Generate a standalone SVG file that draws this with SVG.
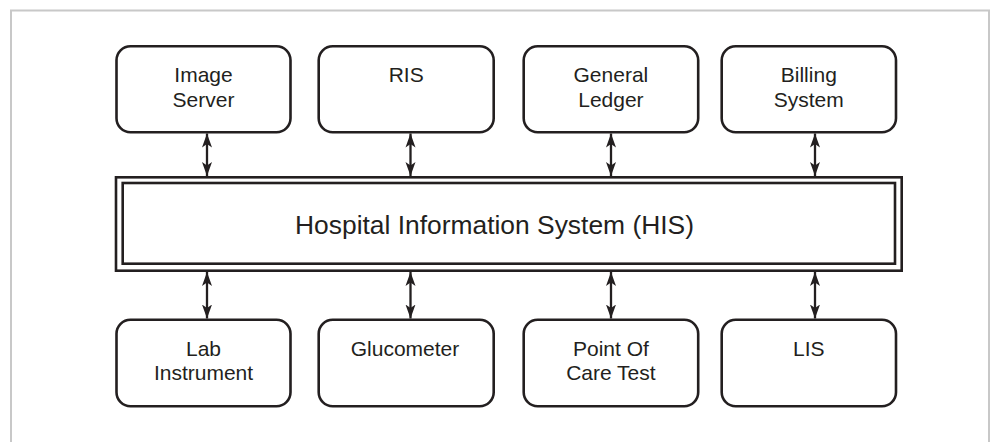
<svg xmlns="http://www.w3.org/2000/svg" width="990" height="442" viewBox="0 0 990 442">
<defs>
<style>
.box{fill:#fff;stroke:#231f20;stroke-width:2.6}
.his{fill:none;stroke:#231f20;stroke-width:2.6}
.lbl{font-family:"Liberation Sans",Arial,sans-serif;font-size:21px;fill:#231f20;text-anchor:middle}
.hl{font-family:"Liberation Sans",Arial,sans-serif;font-size:26.4px;fill:#231f20;text-anchor:middle}
.conn{stroke:#231f20;stroke-width:2.3;fill:none;marker-start:url(#ah);marker-end:url(#ah)}
</style>
<marker id="ah" markerUnits="userSpaceOnUse" viewBox="0 -6 15 12" refX="14" refY="0" markerWidth="15" markerHeight="12" orient="auto-start-reverse">
<path d="M0,-5 L14,0 L0,5 L3.5,0 z" fill="#231f20"/>
</marker>
</defs>
<rect width="990" height="442" fill="#fff"/>
<path d="M11,442 V10.5 H989 V442" fill="none" stroke="#c8c8c8" stroke-width="2"/>

<g id="connectors">
<line class="conn" x1="207" y1="133.5" x2="207" y2="176"/>
<line class="conn" x1="410.5" y1="133.5" x2="410.5" y2="176"/>
<line class="conn" x1="611" y1="133.5" x2="611" y2="176"/>
<line class="conn" x1="815" y1="133.5" x2="815" y2="176"/>
<line class="conn" x1="207" y1="272" x2="207" y2="318.5"/>
<line class="conn" x1="410.5" y1="272" x2="410.5" y2="318.5"/>
<line class="conn" x1="611" y1="272" x2="611" y2="318.5"/>
<line class="conn" x1="815" y1="272" x2="815" y2="318.5"/>
</g>

<g id="image-server">
<rect class="box" x="116.5" y="46.3" width="174" height="86" rx="14"/>
<text class="lbl" x="203.5" y="82">Image</text>
<text class="lbl" x="203.5" y="106.5">Server</text>
</g>
<g id="ris">
<rect class="box" x="318.7" y="46.3" width="175" height="86" rx="14"/>
<text class="lbl" x="406.2" y="82">RIS</text>
</g>
<g id="general-ledger">
<rect class="box" x="523.7" y="46.3" width="174.5" height="86" rx="14"/>
<text class="lbl" x="610.9" y="82">General</text>
<text class="lbl" x="610.9" y="106.5">Ledger</text>
</g>
<g id="billing-system">
<rect class="box" x="721.7" y="46.3" width="174.3" height="86" rx="14"/>
<text class="lbl" x="808.8" y="82">Billing</text>
<text class="lbl" x="808.8" y="106.5">System</text>
</g>

<g id="his">
<rect class="his" x="116" y="177.3" width="785.7" height="93.4"/>
<rect class="his" x="122.7" y="183" width="772.3" height="80.7"/>
<text class="hl" x="494.5" y="233.5">Hospital Information System (HIS)</text>
</g>

<g id="lab-instrument">
<rect class="box" x="116.5" y="319.7" width="174" height="86.6" rx="14"/>
<text class="lbl" x="203.5" y="355.5">Lab</text>
<text class="lbl" x="203.5" y="380">Instrument</text>
</g>
<g id="glucometer">
<rect class="box" x="318.7" y="319.7" width="175" height="86.6" rx="14"/>
<text class="lbl" x="405" y="355.5">Glucometer</text>
</g>
<g id="point-of-care-test">
<rect class="box" x="523.7" y="319.7" width="174.5" height="86.6" rx="14"/>
<text class="lbl" x="610.9" y="355.5">Point Of</text>
<text class="lbl" x="610.9" y="380">Care Test</text>
</g>
<g id="lis">
<rect class="box" x="721.7" y="319.7" width="174.3" height="86.6" rx="14"/>
<text class="lbl" x="808.8" y="355.5">LIS</text>
</g>
</svg>
